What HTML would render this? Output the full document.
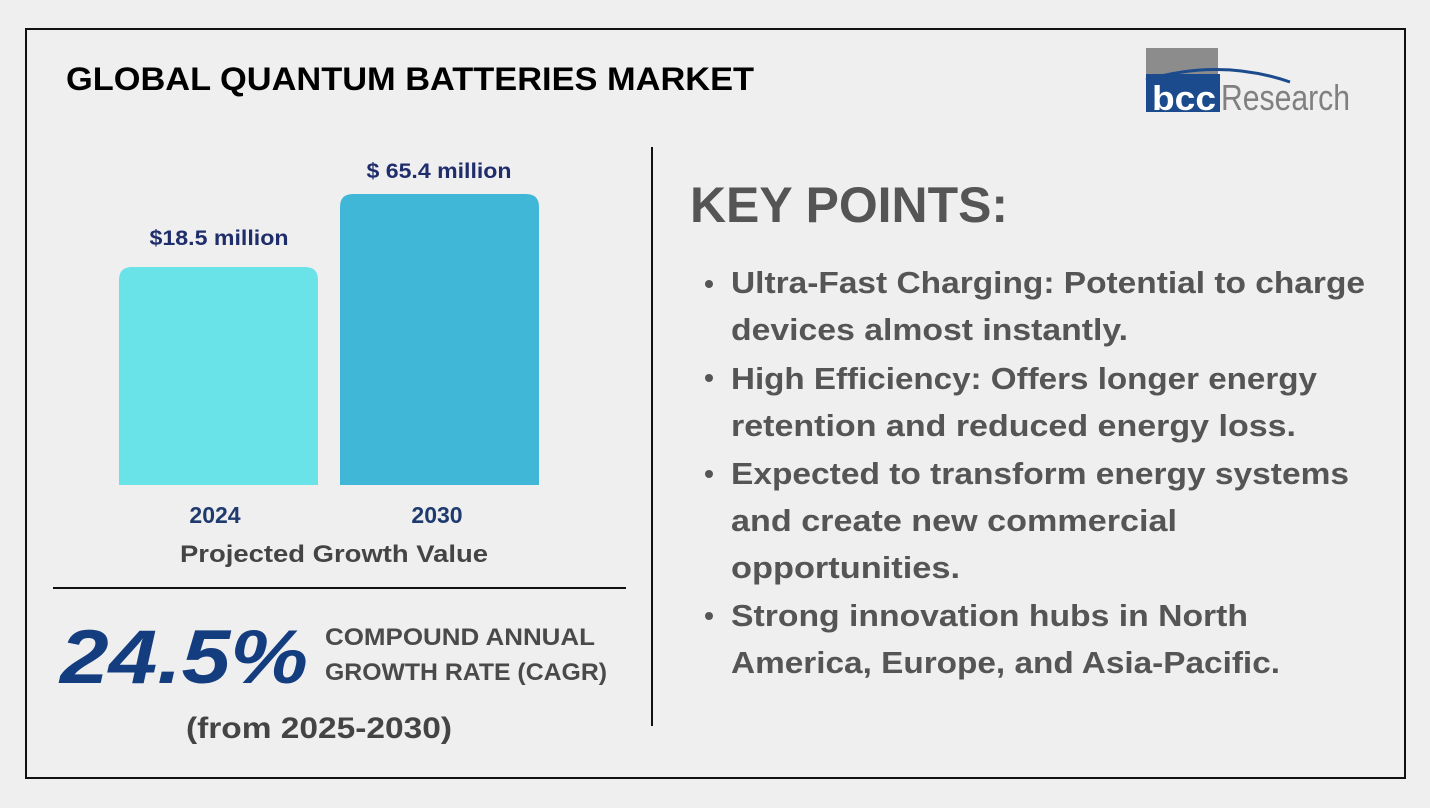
<!DOCTYPE html>
<html><head><meta charset="utf-8"><style>
html,body{margin:0;padding:0;background:#efefef;}
svg{display:block}
text{font-family:"Liberation Sans",sans-serif;font-weight:bold}
</style></head><body>
<svg width="1430" height="808" viewBox="0 0 1430 808" xmlns="http://www.w3.org/2000/svg">
<rect x="0" y="0" width="1430" height="808" fill="#efefef"/>
<rect x="26" y="29" width="1379" height="749" fill="none" stroke="#111" stroke-width="2"/>
<text x="66" y="90" font-size="32" fill="#000" textLength="688" lengthAdjust="spacingAndGlyphs">GLOBAL QUANTUM BATTERIES MARKET</text>
<rect x="1146" y="48" width="72" height="26" fill="#8c8c8c"/>
<rect x="1146" y="74" width="74" height="38" fill="#1b4b8c"/>
<path d="M1146 80 Q1220 58 1290 82" fill="none" stroke="#1b4b8c" stroke-width="3"/>
<text x="1152" y="110" font-size="34" fill="#fff" textLength="64" lengthAdjust="spacingAndGlyphs">bcc</text>
<text x="1221" y="110" font-size="36" fill="#808080" style="font-weight:normal" textLength="129" lengthAdjust="spacingAndGlyphs">Research</text>
<path d="M119 485 V280 Q119 267 132 267 H305 Q318 267 318 280 V485 Z" fill="#6ae3e8"/>
<path d="M340 485 V207 Q340 194 353 194 H526 Q539 194 539 207 V485 Z" fill="#41b7d8"/>
<text x="219" y="245" font-size="21" fill="#1f2d6b" text-anchor="middle" textLength="139" lengthAdjust="spacingAndGlyphs">$18.5 million</text>
<text x="439" y="178" font-size="21" fill="#1f2d6b" text-anchor="middle" textLength="145" lengthAdjust="spacingAndGlyphs">$ 65.4 million</text>
<text x="215" y="523" font-size="23" fill="#1f3a6e" text-anchor="middle">2024</text>
<text x="437" y="523" font-size="23" fill="#1f3a6e" text-anchor="middle">2030</text>
<text x="180" y="562" font-size="24" fill="#444" textLength="308" lengthAdjust="spacingAndGlyphs">Projected Growth Value</text>
<line x1="53" y1="588" x2="626" y2="588" stroke="#111" stroke-width="2"/>
<line x1="652" y1="147" x2="652" y2="726" stroke="#111" stroke-width="2"/>
<text x="60" y="683" font-size="76" font-style="italic" fill="#143d7f" textLength="248" lengthAdjust="spacingAndGlyphs">24.5%</text>
<text x="325" y="645" font-size="24" fill="#4a4a4a" textLength="270" lengthAdjust="spacingAndGlyphs">COMPOUND ANNUAL</text>
<text x="325" y="680" font-size="24" fill="#4a4a4a" textLength="282" lengthAdjust="spacingAndGlyphs">GROWTH RATE (CAGR)</text>
<text x="186" y="738" font-size="30" fill="#444" textLength="266" lengthAdjust="spacingAndGlyphs">(from 2025-2030)</text>
<text x="690" y="222" font-size="50" fill="#555" textLength="318" lengthAdjust="spacingAndGlyphs">KEY POINTS:</text>
<g fill="#555" font-size="31">
<circle cx="709" cy="284" r="4"/>
<circle cx="709" cy="378" r="4"/>
<circle cx="709" cy="474" r="4"/>
<circle cx="709" cy="616" r="4"/>
<text x="731" y="293" textLength="634" lengthAdjust="spacingAndGlyphs">Ultra-Fast Charging: Potential to charge</text>
<text x="731" y="340" textLength="397" lengthAdjust="spacingAndGlyphs">devices almost instantly.</text>
<text x="731" y="389" textLength="586" lengthAdjust="spacingAndGlyphs">High Efficiency: Offers longer energy</text>
<text x="731" y="436" textLength="565" lengthAdjust="spacingAndGlyphs">retention and reduced energy loss.</text>
<text x="731" y="484" textLength="618" lengthAdjust="spacingAndGlyphs">Expected to transform energy systems</text>
<text x="731" y="531" textLength="446" lengthAdjust="spacingAndGlyphs">and create new commercial</text>
<text x="731" y="578" textLength="229" lengthAdjust="spacingAndGlyphs">opportunities.</text>
<text x="731" y="626" textLength="517" lengthAdjust="spacingAndGlyphs">Strong innovation hubs in North</text>
<text x="731" y="673" textLength="549" lengthAdjust="spacingAndGlyphs">America, Europe, and Asia-Pacific.</text>
</g>
</svg>
</body></html>
